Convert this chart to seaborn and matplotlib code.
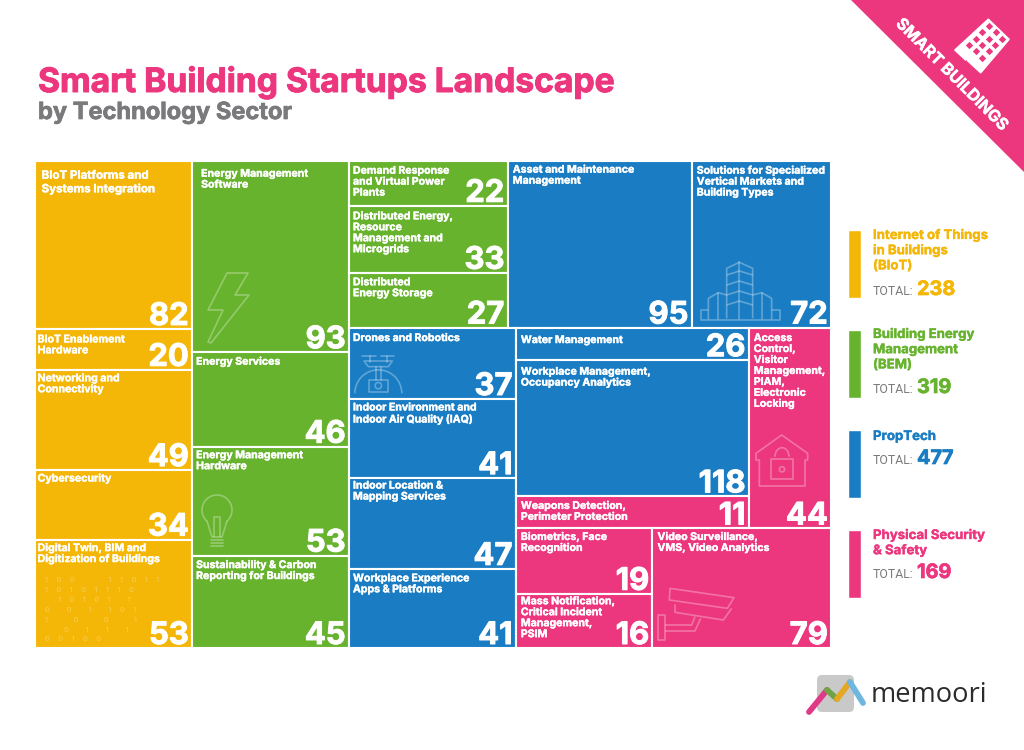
import matplotlib
matplotlib.use("Agg")
import matplotlib.pyplot as plt
from matplotlib import patheffects as pe
from matplotlib.patches import Polygon, Circle, Arc, FancyBboxPatch
import seaborn as sns

# ---------- data ----------
CELL_LABELS = [
    "BIoT Platforms and\nSystems Integration", "BIoT Enablement\nHardware", "Networking and\nConnectivity",
    "Cybersecurity", "Digital Twin, BIM and\nDigitization of Buildings",
    "Energy Management\nSoftware", "Energy Services", "Energy Management\nHardware",
    "Sustainability & Carbon\nReporting for Buildings",
    "Demand Response\nand Virtual Power\nPlants", "Distributed Energy,\nResource\nManagement and\nMicrogrids",
    "Distributed\nEnergy Storage",
    "Asset and Maintenance\nManagement", "Solutions for Specialized\nVertical Markets and\nBuilding Types",
    "Drones and Robotics", "Indoor Environment and\nIndoor Air Quality (IAQ)", "Indoor Location &\nMapping Services",
    "Workplace Experience\nApps & Platforms", "Water Management", "Workplace Management,\nOccupancy Analytics",
    "Weapons Detection,\nPerimeter Protection",
    "Access\nControl,\nVisitor\nManagement,\nPIAM,\nElectronic\nLocking",
    "Biometrics, Face\nRecognition", "Mass Notification,\nCritical Incident\nManagement,\nPSIM",
    "Video Surveillance,\nVMS, Video Analytics",
]
CELL_VALUES = [82, 20, 49, 34, 53, 93, 46, 53, 45, 22, 33, 27, 95, 72, 37, 41, 47, 41, 26, 118, 11, 44, 19, 16, 79]
CELL_GROUPS = [0] * 5 + [1] * 7 + [2] * 8 + [3] * 5
# The pink block of the source is not drawn to scale: areas
DRAWN_AREA = {18: 23.6, 19: 98.5, 20: 23.2, 21: 51.4, 22: 27.7, 23: 23.0, 24: 66.3}

GROUP_NAMES = ["Internet of Things\nin Buildings\n(BIoT)", "Building Energy\nManagement\n(BEM)", "PropTech",
               "Physical Security\n& Safety"]
TITLE = "Smart Building Startups Landscape"
SUBTITLE = "by Technology Sector"

# slice-and-dice structure of the treemap
TREE = [[0, 1, 2, 3, 4], [5, 6, 7, 8],
        [[[9, 10, 11], 12, 13],
         [[14, 15, 16, 17],
          [[[18, 19, 20], 21], [[22, 23], 24]]]]]

# ---------- style ----------
sns.set_theme(style="white")
plt.rcParams["font.family"] = ["Inter", "DejaVu Sans"]
PALETTE = sns.color_palette(["#F5B707", "#67B32E", "#1A7DC3", "#EC377F"])
GREY = "#7A7A7C"

# label offsets inside a cell (px)
INSET_X = [7, 3, 3, 3, 3, 9, 4, 4, 4, 4, 4, 4, 5, 5, 4, 4, 4, 4, 5, 5, 5, 5, 5, 5, 5]
INSET_Y = [13, 10, 8, 8, 8, 12, 9, 8, 9, 9, 10, 9, 8, 9, 10, 8, 7, 9, 12, 11, 9, 10, 8, 7, 8]
LABEL_PT = [8.3] + [7.6] * 24

fig = plt.figure(figsize=(10.24, 7.5), dpi=100)
ax = fig.add_axes([0, 0, 1, 1])
ax.set_xlim(0, 1024)
ax.set_ylim(750, 0)
ax.axis("off")


def weight(node):
    if isinstance(node, list):
        return sum(weight(n) for n in node)
    return DRAWN_AREA.get(node, CELL_VALUES[node])


def lay_out(node, x0, y0, x1, y1, horizontal, out):
    if not isinstance(node, list):
        out[node] = (x0, y0, x1, y1)
        return
    total = weight(node)
    pos = x0 if horizontal else y0
    span = (x1 - x0) if horizontal else (y1 - y0)
    for child in node:
        step = span * weight(child) / total
        if horizontal:
            lay_out(child, pos, y0, pos + step, y1, False, out)
        else:
            lay_out(child, x0, pos, x1, pos + step, True, out)
        pos += step


def bold_text(x, y, s, color, size, stroke, **kw):
    t = ax.text(x, y, s, color=color, fontsize=size, fontweight="bold", **kw)
    t.set_path_effects([pe.withStroke(linewidth=stroke, foreground=color)])
    return t


rects = {}
lay_out(TREE, 34.6, 161.2, 831.2, 648, True, rects)

NUM_PT = 22.3
for i, (x0, y0, x1, y1) in rects.items():
    ax.bar(x0, y1 - y0, width=x1 - x0, bottom=y0, align="edge", color=PALETTE[CELL_GROUPS[i]],
           edgecolor="white", linewidth=1.5, zorder=1)
    bold_text(x0 + INSET_X[i], y0 + INSET_Y[i] - 4.5, CELL_LABELS[i], "white", LABEL_PT[i], 0.25,
              va="top", ha="left", linespacing=1.12, zorder=4)
    bold_text(x1 - 3.5, y1 - 4, str(CELL_VALUES[i]), "white", NUM_PT, 0.7, va="baseline", ha="right", zorder=4)

# ---------- faint icons ----------
ic = dict(fill=False, edgecolor="white", alpha=0.3, linewidth=1.2, zorder=2, joinstyle="round")
ln = dict(color="white", alpha=0.3, lw=1.2, zorder=2)
arc = dict(edgecolor="white", alpha=0.3, lw=1.2, zorder=2)


def poly(pts, closed=True, **kw):
    d = dict(ic)
    d.update(kw)
    ax.add_patch(Polygon(pts, closed=closed, **d))


# lightning
poly([(227, 273), (248, 273), (235, 295), (249, 295), (211, 343), (208, 342), (223, 310), (208, 310)])
# bulb
ax.add_patch(Arc((217, 510), 30, 30, theta1=130, theta2=50, **arc))
poly([(207, 521), (212, 537), (222, 537), (227, 521)], closed=False)
poly([(214, 537), (214, 517), (220, 517), (220, 537)], closed=False)
for yy in (540, 543, 546):
    ax.plot([211, 223], [yy, yy], **ln)


def dz(x, y):
    return (349 + x / 3, 325 + y / 3)


# drone
for a, b in [((40, 92), (80, 92)), ((95, 92), (135, 92)), ((62, 92), (62, 110)), ((115, 92), (115, 110)),
             ((80, 125), (80, 165)), ((96, 125), (96, 165))]:
    pa, pb = dz(*a), dz(*b)
    ax.plot([pa[0], pb[0]], [pa[1], pb[1]], **ln)
poly([dz(45, 108), dz(130, 108), dz(118, 125), dz(58, 125)])
poly([dz(60, 165), dz(118, 165), dz(118, 200), dz(60, 200)])
ax.add_patch(Circle(dz(88, 182), 3.2, fill=False, **arc))
ax.add_patch(Arc(dz(88, 205), 47, 47, theta1=180, theta2=360, **arc))


def bz(x, y):
    return (650 + x / 3, 230 + y / 3)


# skyline
poly([bz(230, 265), bz(230, 115), bz(268, 97), bz(308, 115), bz(308, 265)], closed=False)
for yy in (135, 165, 195, 225):
    poly([bz(230, yy), bz(268, yy - 12), bz(308, yy)], closed=False)
ax.plot(*zip(bz(268, 97), bz(268, 268)), **ln)
poly([bz(175, 268), bz(175, 205), bz(205, 188), bz(230, 195)], closed=False)
poly([bz(308, 195), bz(335, 188), bz(365, 205), bz(365, 268)], closed=False)
ax.plot(*zip(bz(205, 188), bz(205, 268)), **ln)
ax.plot(*zip(bz(335, 188), bz(335, 268)), **ln)
poly([bz(175, 240), bz(152, 240), bz(152, 270), bz(390, 270), bz(390, 240), bz(365, 240)], closed=False)
# house and padlock
poly([bz(328, 690), bz(318, 690), bz(318, 670), bz(395, 615), bz(473, 670), bz(473, 690), bz(465, 690),
      bz(465, 768), bz(328, 768)])
poly([bz(362, 688), bz(430, 688), bz(430, 748), bz(362, 748)])
ax.add_patch(Arc(bz(396, 680), 14, 18, theta1=180, theta2=360, **arc))
ax.add_patch(Circle(bz(396, 718), 2.6, fill=False, **arc))


def cz(x, y):
    return (640 + x / 3, 525 + y / 3)


# camera
poly([cz(90, 190), cz(282, 218), cz(262, 250), cz(88, 225)])
poly([cz(105, 238), cz(105, 262), cz(250, 285), cz(275, 250)], closed=False)
poly([cz(55, 270), cz(75, 270), cz(75, 345), cz(55, 345)])
poly([cz(75, 300), cz(155, 300), cz(165, 275)], closed=False)
poly([cz(75, 318), cz(165, 318), cz(182, 280)], closed=False)
# binary digits
BINARY = [("1 0 0    1 1 0 1 1", 45), ("1 0 1 0 1 1 1 0", 45), ("1 0 1 0 1  1", 58), ("0  0  1  1 0 1", 45),
          ("1   0   0   1", 45), ("0  1  1  1", 64), ("0 0 1 0 0", 45)]
for k, (row, xx) in enumerate(BINARY):
    ax.text(xx, 580 + k * 9.9, row.replace(" ", "    "), color="white", alpha=0.3, fontsize=5.4, va="center",
            ha="left", zorder=2)

# ---------- titles ----------
bold_text(38, 92, TITLE, PALETTE[3], 24.2, 0.7, va="baseline", ha="left")
bold_text(38, 119, SUBTITLE, GREY, 17.0, 0.5, va="baseline", ha="left")

# ---------- legend ----------
SWATCH_TOPS = [230, 330, 430, 530]
NAME_BASE = [239, 338, 440, 539]
TOTAL_BASE = [295, 393, 464, 578]
NUM_X = [917, 917, 917, 917]
for g, name in enumerate(GROUP_NAMES):
    col = PALETTE[g]
    ax.bar(848, 68, width=13, bottom=SWATCH_TOPS[g], align="edge", color=col, zorder=1)
    for j, line in enumerate(name.split("\n")):
        bold_text(873, NAME_BASE[g] + j * 15.2, line, col, 9.5, 0.25, va="baseline", ha="left")
    ax.text(873, TOTAL_BASE[g], "TOTAL:", color=GREY, fontsize=8.8, family="Roboto", va="baseline", ha="left")
    total = sum(v for v, gg in zip(CELL_VALUES, CELL_GROUPS) if gg == g)
    bold_text(NUM_X[g], TOTAL_BASE[g], str(total), col, 14.3, 0.5, va="baseline", ha="left")

# ---------- corner ribbon ----------
ax.add_patch(Polygon([(851, 0), (1024, 0), (1024, 172)], closed=True, facecolor=PALETTE[3], edgecolor="none",
                     zorder=1))
bold_text(952, 75, "SMART BUILDINGS", "white", 11.7, 0.3, rotation=-45, rotation_mode="anchor",
          ha="center", va="center", zorder=3)


def rz(x, y):
    return (845 + x / 3, y / 3)


poly([rz(430, 58), rz(492, 118), rz(407, 218), rz(368, 182), rz(385, 165), rz(362, 180), rz(330, 150)],
     fill=True, facecolor="white", edgecolor="white", alpha=1, zorder=3)
wx, wy = [], []
for r in range(3):
    for c in range(4):
        p = rz(432 + 19.5 * r - 19.7 * c, 78 + 19 * r + 19 * c)
        wx.append(p[0])
        wy.append(p[1])
ax.scatter(wx, wy, marker="D", s=14, color=PALETTE[3], linewidths=0, zorder=4)

# ---------- logo ----------
ax.add_patch(FancyBboxPatch((820, 678), 31, 31, boxstyle="round,pad=3,rounding_size=5", facecolor="#C9C9C9",
                            edgecolor="none", zorder=1))
LOGO_COLS = ["#DF3A85", "#6DA544", "#E5A823", "#6FB7E0"]
LOGO_PTS = [((809, 712), (827, 690)), ((827, 690), (837, 699)), ((837, 699), (850, 682)), ((850, 682), (863, 703))]
for (a, b), c in zip(LOGO_PTS, LOGO_COLS):
    ax.plot([a[0], b[0]], [a[1], b[1]], color=c, lw=4.2, solid_capstyle="round", zorder=2)
ax.text(871, 702, "memoori", color="#2B2B2B", fontsize=19.6, family="Open Sans", va="baseline", ha="left")

fig.savefig("out.png", dpi=100, facecolor="white")
